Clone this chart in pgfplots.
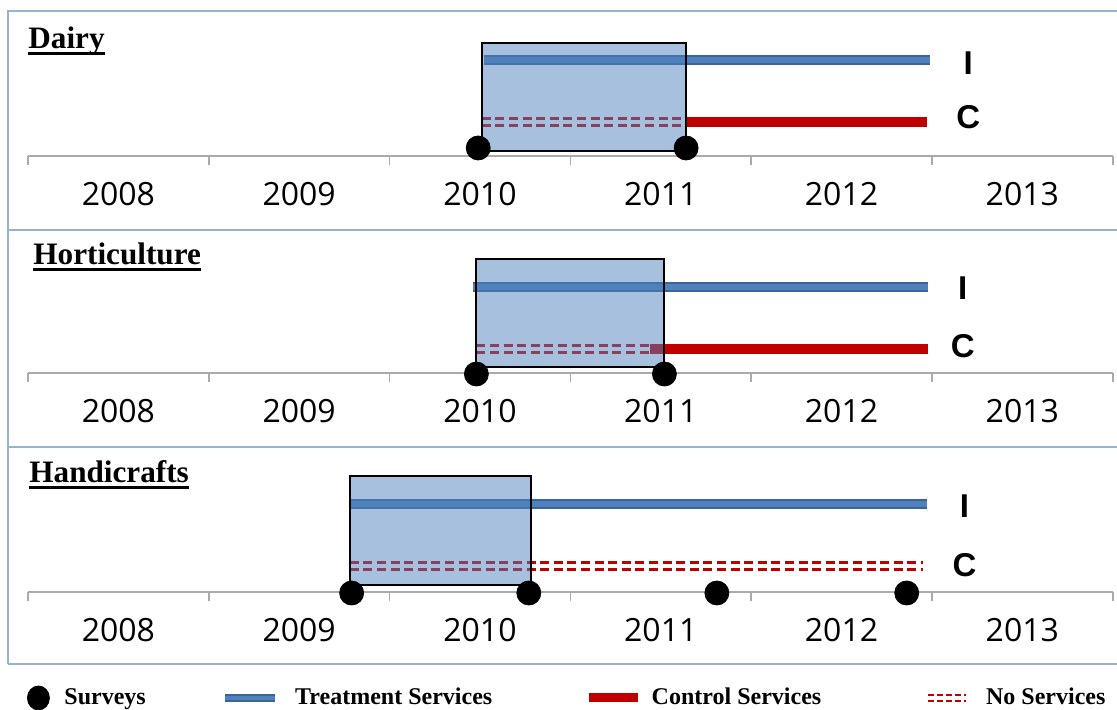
\documentclass[border=0pt]{standalone}
\usepackage{fontspec}
\usepackage{pgfplots}
\pgfplotsset{compat=1.18}
\setmainfont{Liberation Serif}
\newfontfamily\yearfont{Open Sans}
\newfontfamily\arialfont{Liberation Sans}

\definecolor{boxblue}{RGB}{79,129,189}
\definecolor{lineblue}{RGB}{79,129,189}
\definecolor{edgeblue}{RGB}{60,100,150}
\definecolor{ctrlred}{RGB}{192,0,0}
\definecolor{framecol}{RGB}{149,179,215}
\definecolor{axisgray}{RGB}{170,170,170}

\newcommand\ul[1]{\setbox0\hbox{#1}\rlap{\rule[-2.8pt]{\wd0}{1.1pt}}\box0}

\tikzset{ic/.style={font=\arialfont\bfseries\fontsize{16.5}{19}\selectfont}}

\pgfplotsset{
  panel/.style={
    anchor=south west,
    x=90.4pt, y=0.5pt,
    xmin=2007.5, xmax=2013.5, ymin=0, ymax=120,
    clip=false,
    axis x line=bottom, axis y line=none,
    every outer x axis line/.append style={-},
    x axis line style={-, draw=axisgray, line width=0.75pt},
    xtick={2008,...,2013},
    xticklabels={2008,2009,2010,2011,2012,2013},
    minor xtick={2007.5,2008.5,...,2013.5},
    major tick length=0pt, minor tick length=4.5pt, tick align=outside,
    minor tick style={draw=axisgray, line width=0.75pt},
    xticklabel style={anchor=base, yshift=-24.7pt,
      font=\yearfont\fontsize{16}{19}\selectfont},
  },
  treat/.style={draw=edgeblue, double=lineblue, line width=1pt, double distance=3pt, forget plot},
  ctrl/.style={draw=ctrlred, line width=5pt, forget plot},
  nosrv/.style={draw=ctrlred, double=white, line width=1.6pt, double distance=2.2pt,
    dash pattern=on 4.5pt off 2.3pt, forget plot},
  surv/.style={only marks, mark=*, mark size=6pt, draw=black, fill=black, forget plot},
  period/.style={fill=boxblue, fill opacity=0.5, draw=black, line width=1pt, forget plot},
}

\begin{document}
\begin{tikzpicture}
\useasboundingbox (0,0) rectangle (558.5pt,355pt);

% frame
\draw[framecol, line width=0.75pt] (4pt,23pt) -- (4pt,349.5pt) -- (558.5pt,349.5pt);
\draw[framecol, line width=0.75pt] (4pt,240pt) -- (558.5pt,240pt);
\draw[framecol, line width=0.75pt] (4pt,131.5pt) -- (558.5pt,131.5pt);
\draw[framecol, line width=0.75pt] (4pt,23pt) -- (558.5pt,23pt);

% panel titles
\node[anchor=base west, inner sep=0pt, font=\bfseries\fontsize{15.6}{18}\selectfont] at (14pt,330.5pt) {\ul{Dairy}};
\node[anchor=base west, inner sep=0pt, font=\bfseries\fontsize{15.6}{18}\selectfont] at (16.5pt,222.5pt) {\ul{Horticulture}};
\node[anchor=base west, inner sep=0pt, font=\bfseries\fontsize{15.6}{18}\selectfont] at (14.5pt,113.5pt) {\ul{Handicrafts}};

% Dairy
\begin{axis}[panel, at={(14pt,277pt)}]
  \addplot[treat] coordinates {(2010.02,96) (2012.49,96)};
  \addplot[ctrl] coordinates {(2011.14,34) (2012.47,34)};
  \addplot[nosrv] coordinates {(2010.01,34) (2011.14,34)};
  \addplot[surv] coordinates {(2009.99,8) (2011.14,8)};
  \addplot[period] coordinates {(2010.01,5) (2011.14,5) (2011.14,113) (2010.01,113)} -- cycle;
  \node[ic] at (axis cs:2012.70,93) {I};
  \node[ic] at (axis cs:2012.70,39) {C};
\end{axis}

% Horticulture
\begin{axis}[panel, at={(14pt,168.5pt)}]
  \addplot[treat] coordinates {(2009.96,86) (2012.48,86)};
  \addplot[ctrl] coordinates {(2010.94,24) (2012.48,24)};
  \addplot[nosrv] coordinates {(2009.98,24) (2010.94,24)};
  \addplot[surv] coordinates {(2009.98,-1) (2011.02,-1)};
  \addplot[period] coordinates {(2009.98,6) (2011.02,6) (2011.02,114) (2009.98,114)} -- cycle;
  \node[ic] at (axis cs:2012.67,85) {I};
  \node[ic] at (axis cs:2012.67,27) {C};
\end{axis}

% Handicrafts
\begin{axis}[panel, at={(14pt,59pt)},
  legend columns=4,
  legend style={at={(axis description cs:-0.0009,-0.8833)}, anchor=west,
    draw=none, fill=none, inner sep=0pt, outer sep=0pt,
    column sep=0pt, row sep=0pt,
    nodes={inner sep=0pt, font=\bfseries\fontsize{12}{14}\selectfont}},
  legend cell align=left]
  \addplot[treat] coordinates {(2009.28,88) (2012.47,88)};
  \addplot[nosrv] coordinates {(2009.28,26) (2012.45,26)};
  \addplot[surv] coordinates {(2009.29,-1) (2010.27,-1) (2011.31,-1) (2012.36,-1)};
  \addplot[period] coordinates {(2009.28,7) (2010.28,7) (2010.28,116) (2009.28,116)} -- cycle;
  \node[ic] at (axis cs:2012.68,86) {I};
  \node[ic] at (axis cs:2012.68,27) {C};

  \addlegendimage{legend image code/.code={\path[draw=none] (0pt,0pt) -- (18.5pt,0pt);
    \fill[black] (5.5pt,0pt) ellipse (5.5pt and 6pt);}}
  \addlegendentry{\makebox[78.5pt][l]{Surveys}}
  \addlegendimage{legend image code/.code={\path[draw=none] (0pt,0pt) -- (35pt,0pt);
    \draw[draw=edgeblue, double=lineblue, line width=0.8pt, double distance=2.2pt] (0pt,0pt) -- (25pt,0pt);}}
  \addlegendentry{\makebox[144.5pt][l]{Treatment Services}}
  \addlegendimage{legend image code/.code={\path[draw=none] (0pt,0pt) -- (31.5pt,0pt);
    \draw[draw=ctrlred, line width=4.5pt] (0pt,0pt) -- (24.5pt,0pt);}}
  \addlegendentry{\makebox[136pt][l]{Control Services}}
  \addlegendimage{legend image code/.code={\path[draw=none] (0pt,0pt) -- (29pt,0pt);
    \draw[draw=ctrlred, double=white, line width=1.3pt, double distance=1.8pt,
      dash pattern=on 3pt off 1.5pt] (0pt,0pt) -- (19pt,0pt);}}
  \addlegendentry{No Services}
\end{axis}
\end{tikzpicture}
\end{document}
